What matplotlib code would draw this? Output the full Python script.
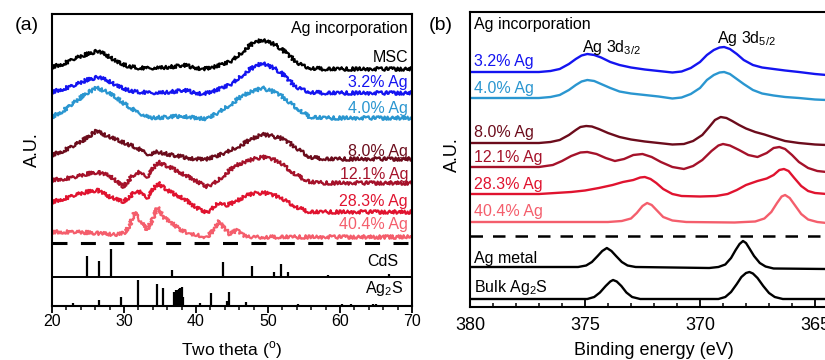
import matplotlib
matplotlib.use("Agg")
import matplotlib.pyplot as plt
import matplotlib.transforms as mtransforms
from matplotlib.ticker import MultipleLocator

plt.rcParams['font.family'] = ['Liberation Sans', 'DejaVu Sans']
plt.rcParams['mathtext.fontset'] = 'custom'
plt.rcParams['mathtext.rm'] = 'Liberation Sans'

# ---------------- Panel (a): XRD ----------------
xrd_labels = ["MSC", "3.2% Ag", "4.0% Ag", "8.0% Ag", "12.1% Ag", "28.3% Ag", "40.4% Ag"]

msc_tt = [20, 21.5, 23, 24.5, 26.3, 27.5, 29, 30.5, 32, 35, 36.5, 38.2, 39.5, 41, 42.5, 44.7, 46, 47, 48, 49.2, 50.5, 51.7, 53, 54, 55, 56, 58, 70]
msc_int = [2, 5, 10, 14, 18, 14, 7, 3, 1, 1, 2, 4, 2, 0, 2, 7, 14, 21, 26, 29, 26, 21, 13, 7, 3, 1, 0, 0]

ag32_tt = [20, 21.5, 23.2, 24.8, 26.4, 27.8, 29, 30.5, 31.8, 35, 36.5, 38.2, 39.5, 41, 42.5, 44.7, 46, 47.3, 49.2, 50.5, 51.7, 53, 54, 55, 55.8, 58, 70]
ag32_int = [2, 5, 9, 14, 17, 13, 8, 4, 2, 1, 2, 4, 2, 0, 3, 9, 16, 24, 31, 27, 22, 13, 7, 4, 2, 1, 1]

ag40_tt = [20, 21.5, 23.2, 24.8, 26.2, 27.6, 29, 30.5, 31.8, 33.6, 36, 38.2, 40, 41.5, 43, 44.7, 46, 47.5, 49.2, 50.5, 51.7, 53, 54, 55, 55.8, 58, 70]
ag40_int = [1, 7, 16, 25, 30, 26, 20, 12, 6, 0, 1, 2, 0, -1, 5, 13, 20, 26, 30, 27, 23, 16, 10, 5, 1, 0, 0]

ag80_tt = [20, 21.5, 23.2, 24.8, 26.1, 27.6, 29, 30.5, 31.8, 33.6, 34.6, 36, 38.2, 40, 41.5, 43, 44.3, 46, 47.5, 49.2, 50.5, 51.7, 53, 54, 55, 55.8, 58, 70]
ag80_int = [5, 9, 15, 22, 29, 24, 20, 16, 12, 5, 8, 6, 3, 1, 1, 4, 8, 14, 20, 26, 24, 22, 17, 12, 7, 3, 1, 1]

ag121_tt = [20, 21.5, 23.2, 24.8, 26.3, 28, 29.9, 30.9, 31.8, 32.5, 33.2, 34.7, 36, 38, 40, 41.5, 43, 44.7, 46, 47.5, 49.2, 50.5, 51.7, 53, 54, 55, 55.8, 58, 70]
ag121_int = [3, 4, 6, 9, 11, 7, -4, 5, 11, 9, 6, 21, 17, 10, 2, -4, 2, 13, 19, 23, 26, 24, 21, 13, 8, 4, 1, 0, 0]

ag283_tt = [20, 21.5, 23.2, 24.8, 26.3, 28, 29.9, 30.9, 31.8, 32.5, 33.2, 34.7, 36.4, 38.2, 40.1, 41.5, 42.5, 43.3, 44.3, 45.5, 47, 48.5, 49.6, 51.7, 53, 54, 55, 55.8, 58, 70]
ag283_int = [10, 13, 17, 20, 22, 15, 10, 16, 22, 18, 14, 29, 20, 14, 4, -1, 5, 10, 7, 10, 17, 19, 19, 15, 9, 5, 2, 0, 0, 0]

ag404_tt = [20, 23.2, 26.2, 28.8, 30.1, 30.8, 31.5, 32.2, 33.2, 33.9, 34.7, 35.6, 36.5, 37.8, 39.2, 41.5, 42.5, 43.2, 44, 44.7, 45.7, 46.5, 48, 70]
ag404_int = [5, 5, 4, 2, 4, 12, 25, 17, 7, 17, 30, 19, 15, 7, 3, 0, 7, 16, 8, 3, 7, 2, 0, 0]

cds_tt = [24.8, 26.5, 28.2, 36.6, 43.7, 47.8, 50.9, 51.8, 52.8, 58.3, 66.8, 69.3]
cds_int = [75, 57, 100, 25, 54, 39, 18, 46, 18, 7, 10, 4]

ag2s_tt = [22.9, 26.5, 29.6, 32.0, 34.6, 35.4, 37.0, 37.2, 37.4, 37.6, 37.8, 38.0, 38.2, 40.5, 42.1, 44.3, 44.6, 46.9, 48.9, 54.2, 55.8, 60.3, 61.5, 64.6, 65.0, 66.3]
ag2s_int = [12, 23, 35, 100, 85, 69, 54, 62, 62, 65, 69, 73, 35, 12, 50, 19, 54, 15, 4, 8, 4, 8, 8, 8, 8, 4]

# ---------------- Panel (b): XPS ----------------
xps_labels = ["3.2% Ag", "4.0% Ag", "8.0% Ag", "12.1% Ag", "28.3% Ag", "40.4% Ag", "Ag metal", "Bulk Ag$_\\mathregular{2}$S"]

x32_ev = [380, 377, 376.5, 376.1, 375.7, 375.4, 375.15, 374.9, 374.6, 374.3, 373.9, 373.5, 373, 372.4, 371.8, 371.2, 370.8, 370.4, 370, 369.7, 369.4, 369.15, 368.95, 368.7, 368.4, 368.1, 367.7, 367.3, 366.8, 366.3, 365.7, 365, 364.5]
x32_int = [0, 0, 1, 3, 8, 13, 16.5, 18, 17, 14.5, 10, 7, 4.5, 2.5, 1, -0.5, 0.5, 4, 10, 17, 22, 24.5, 25, 23, 18, 12, 7, 4.5, 3, 1.5, 0, -2, -3]

x40_ev = [380, 377, 376.5, 376.1, 375.7, 375.4, 375.15, 374.9, 374.6, 374.3, 373.9, 373.5, 373, 372.4, 371.8, 371.2, 370.8, 370.4, 370, 369.7, 369.4, 369.15, 368.95, 368.7, 368.4, 368.1, 367.7, 367.3, 366.8, 366.3, 365.7, 365, 364.5]
x40_int = [0, 0, 1, 3, 8, 13, 16.5, 18, 17, 14, 10, 6.5, 4.5, 3, 1.5, -0.5, 0.5, 4, 10, 18, 23, 25.5, 26, 24, 19, 14, 8, 4.5, 2.5, 1, 0, -1.5, -2]

x80_ev = [380, 377, 376.5, 376.1, 375.7, 375.4, 375.2, 374.95, 374.7, 374.4, 374, 373.5, 373, 372.4, 371.8, 371.2, 370.7, 370.3, 369.9, 369.6, 369.35, 369.1, 368.85, 368.6, 368.3, 368, 367.6, 367.2, 366.8, 366.3, 365.7, 365, 364.5]
x80_int = [0, 0, 1, 3, 8, 13, 16, 17, 16.5, 14, 10, 6, 3.5, 1.5, 0, -1.5, -1, 2, 8, 16, 23, 26, 25, 22, 18, 14.5, 11, 8.5, 5.5, 2, 0, -1.5, -2]

x121_ev = [380, 377, 376.4, 376, 375.6, 375.2, 374.9, 374.5, 374.1, 373.7, 373.3, 372.9, 372.5, 372.1, 371.7, 371.2, 370.7, 370.3, 369.9, 369.5, 369.2, 369.0, 368.7, 368.3, 367.9, 367.5, 367.1, 366.8, 366.55, 366.3, 366, 365.7, 365.3, 364.9, 364.5]
x121_int = [0, 0, 2, 6, 11, 14.5, 15, 13, 9, 6, 8, 12, 13, 10, 5, 0, -2, 1, 7, 16, 21.5, 23, 21.5, 17, 12, 10, 14, 19, 20, 18, 12, 5, -1, -4, -5]

x283_ev = [380, 377, 376.3, 375.6, 375, 374.4, 373.8, 373.35, 372.9, 372.6, 372.4, 372.15, 371.9, 371.6, 371.2, 370.8, 370, 369.3, 368.8, 368.4, 368, 367.5, 367.1, 366.8, 366.55, 366.35, 366.15, 365.9, 365.6, 365.3, 365, 364.5]
x283_int = [0, 0, 1, 2, 3.5, 6, 9, 12, 14, 16.5, 17, 15, 11, 5, 0, -2, -2.5, -2, 0, 4, 9, 13, 15.5, 19, 24, 25, 23, 16, 8, 3, 1, 0]

x404_ev = [380, 374, 373.4, 373, 372.75, 372.5, 372.3, 372.1, 371.85, 371.6, 371.2, 370.6, 368.5, 367.6, 367.2, 366.9, 366.65, 366.45, 366.3, 366.1, 365.85, 365.6, 365.3, 364.9, 364.5]
x404_int = [0, 0, 1, 3.5, 9, 16, 19, 17, 11, 5, 1.5, 0, -0.5, 0.5, 3.5, 10, 19, 25.5, 27, 24, 16, 8, 2.5, 0, -1]

xmet_ev = [380, 375.3, 374.95, 374.7, 374.45, 374.25, 374.05, 373.85, 373.65, 373.4, 373.15, 372.8, 369.6, 369.2, 368.9, 368.65, 368.45, 368.28, 368.13, 368.0, 367.85, 367.65, 367.4, 367.15, 366.8, 364.5]
xmet_int = [0, 0, 1.5, 5, 11, 16, 19, 16, 11, 5, 1.5, 0, -1, 0, 2.5, 9, 17, 23, 26, 24, 18.5, 11, 4, 0.5, -1.5, -2]

xag2s_ev = [380, 374.9, 374.6, 374.35, 374.1, 373.9, 373.78, 373.62, 373.42, 373.2, 372.95, 372.6, 369.2, 368.9, 368.65, 368.4, 368.2, 368.0, 367.85, 367.7, 367.5, 367.25, 367.0, 366.75, 366.4, 364.5]
xag2s_int = [0, 0, 2, 6.5, 13, 17.5, 19, 17.5, 13, 6.5, 2, 0, 0, 2, 7, 15, 22, 26, 27, 25.5, 21, 13, 6, 2, 0, 0]

# ---------------- styles / layout ----------------
xrd_colors = ["#000000", "#1414f0", "#2a96d0", "#6c0c1c", "#a5122a", "#e0132f", "#f45e6c"]
xrd_offsets = [237, 212, 188, 146, 123, 94, 69]
xrd_label_y = [244, 219, 193, 150, 127, 100, 77]

xps_colors = ["#1414f0", "#2a96d0", "#6c0c1c", "#a5122a", "#e0132f", "#f45e6c", "#000000", "#000000"]
xps_offsets = [235, 209, 164, 140, 113, 85, 40, 8]
xps_label_y = [241, 214, 170, 145, 118, 91, 44, 15]

W, H = 825, 360
fig = plt.figure(figsize=(W / 100, H / 100), dpi=100)

FS = 11.5

# ---- Panel (a)
axa = fig.add_axes([52 / W, 1 - 306 / H, 360 / W, 292 / H])
axa.set_xlim(20, 70)
axa.set_ylim(0, 292)
xrd_tt = [msc_tt, ag32_tt, ag40_tt, ag80_tt, ag121_tt, ag283_tt, ag404_tt]
xrd_int = [msc_int, ag32_int, ag40_int, ag80_int, ag121_int, ag283_int, ag404_int]
for tt, it, c, off in zip(xrd_tt, xrd_int, xrd_colors, xrd_offsets):
    ln, = axa.plot(tt, [v + off for v in it], color=c, lw=1.6, solid_joinstyle='round')
    ln.set_sketch_params(scale=1.8, length=1.2, randomness=3)

trans_a = mtransforms.blended_transform_factory(axa.transAxes, axa.transData)
axa.text(0.989, 273, "Ag incorporation", transform=trans_a, ha='right', va='baseline', fontsize=FS, color='black')
for lab, c, y in zip(xrd_labels, xrd_colors, xrd_label_y):
    axa.text(0.989, y, lab, transform=trans_a, ha='right', va='baseline', fontsize=FS, color=c)

# dashed separator and reference sticks
axa.axhline(63, color='black', lw=2.2, linestyle=(0, (4.9, 4.4)))
axa.axhline(29, color='black', lw=1.4)
cds_base, cds_h = 29, 28
axa.vlines(cds_tt, cds_base, [cds_base + v / 100 * cds_h for v in cds_int], color='black', lw=1.6)
ag2s_base, ag2s_h = 0, 26
axa.vlines(ag2s_tt, ag2s_base, [ag2s_base + v / 100 * ag2s_h for v in ag2s_int], color='black', lw=1.6)
axa.text(0.961, 40, "CdS", transform=trans_a, ha='right', va='baseline', fontsize=FS)
axa.text(0.975, 13, "Ag$_\\mathregular{2}$S", transform=trans_a, ha='right', va='baseline', fontsize=FS)

axa.set_yticks([])
axa.xaxis.set_major_locator(MultipleLocator(10))
axa.xaxis.set_minor_locator(MultipleLocator(2))
axa.tick_params(axis='x', which='major', direction='out', length=5, width=1.3, labelsize=11.5, pad=0.5)
axa.tick_params(axis='x', which='minor', direction='out', length=3, width=1.1)
for s in axa.spines.values():
    s.set_linewidth(1.5)
axa.set_xlabel("Two theta ($^\\mathregular{o}$)", fontsize=12.5, labelpad=8)

fig.text(32 / W, 1 - 150 / H, "A.U.", rotation=90, ha='center', va='center', fontsize=13)
fig.text(27 / W, 1 - 25 / H, "(a)", ha='center', va='center', fontsize=14)

# ---- Panel (b)
axb = fig.add_axes([470 / W, 1 - 307 / H, 368 / W, 295 / H])
axb.set_xlim(380, 364)
axb.set_ylim(0, 295)
xps_ev = [x32_ev, x40_ev, x80_ev, x121_ev, x283_ev, x404_ev, xmet_ev, xag2s_ev]
xps_int = [x32_int, x40_int, x80_int, x121_int, x283_int, x404_int, xmet_int, xag2s_int]
for ev, it, c, off in zip(xps_ev, xps_int, xps_colors, xps_offsets):
    axb.plot(ev, [v + off for v in it], color=c, lw=1.7, solid_joinstyle='round', solid_capstyle='round')

trans_b = mtransforms.blended_transform_factory(axb.transAxes, axb.transData)
axb.text(4 / 368, 278, "Ag incorporation", transform=trans_b, ha='left', va='baseline', fontsize=FS)
for lab, c, y in zip(xps_labels, xps_colors, xps_label_y):
    axb.text(4 / 368, y, lab, transform=trans_b, ha='left', va='baseline', fontsize=FS, color=c)
axb.text(373.83, 255, "Ag 3d$_\\mathregular{3/2}$", ha='center', va='baseline', fontsize=FS)
axb.text(368.0, 264, "Ag 3d$_\\mathregular{5/2}$", ha='center', va='baseline', fontsize=FS)
axb.axhline(71, color='black', lw=1.8, linestyle=(0, (5.0, 4.0)))

axb.set_yticks([])
axb.xaxis.set_major_locator(MultipleLocator(5))
axb.xaxis.set_minor_locator(MultipleLocator(1))
axb.tick_params(axis='x', which='major', direction='in', length=5, width=1.3, labelsize=13, pad=7)
axb.tick_params(axis='x', which='minor', direction='in', length=3, width=1.1)
for s in axb.spines.values():
    s.set_linewidth(1.5)
axb.set_xlabel("Binding energy (eV)", fontsize=13, labelpad=6)

fig.text(452 / W, 1 - 155 / H, "A.U.", rotation=90, ha='center', va='center', fontsize=13)
fig.text(441 / W, 1 - 25 / H, "(b)", ha='center', va='center', fontsize=14)

fig.savefig("out.png", dpi=100)
